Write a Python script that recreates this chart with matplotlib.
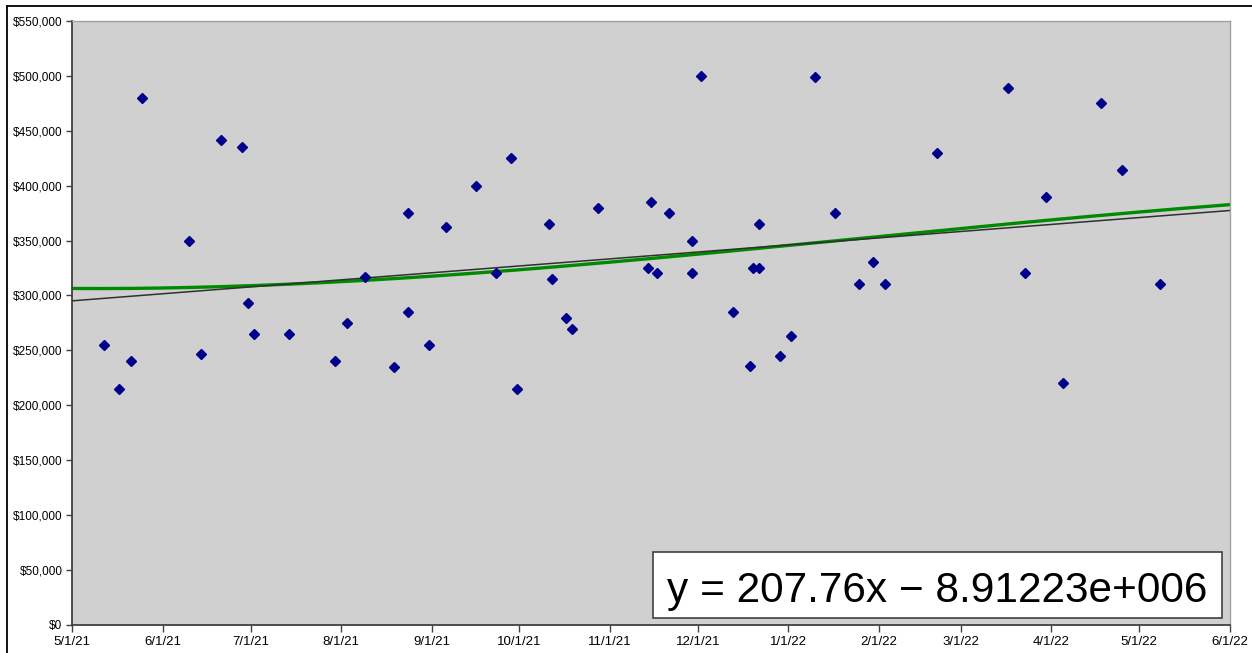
import numpy as np
import pandas as pd
import matplotlib
matplotlib.use('Agg')
import matplotlib.pyplot as plt
from matplotlib.ticker import FuncFormatter
from matplotlib.lines import Line2D
from matplotlib.patches import Rectangle

# sale date / sale price
sale_dates = [
    '2021-05-12', '2021-05-17', '2021-05-21', '2021-05-25', '2021-06-10',
    '2021-06-14', '2021-06-21', '2021-06-28', '2021-06-30', '2021-07-02',
    '2021-07-14', '2021-07-30', '2021-08-03', '2021-08-09', '2021-08-19',
    '2021-08-24', '2021-08-24', '2021-08-31', '2021-09-06', '2021-09-16',
    '2021-09-23', '2021-09-28', '2021-09-30', '2021-10-11', '2021-10-12',
    '2021-10-17', '2021-10-19', '2021-10-28', '2021-11-14', '2021-11-15',
    '2021-11-17', '2021-11-21', '2021-11-29', '2021-11-29', '2021-12-02',
    '2021-12-13', '2021-12-19', '2021-12-20', '2021-12-22', '2021-12-22',
    '2021-12-29', '2022-01-02', '2022-01-10', '2022-01-17', '2022-01-25',
    '2022-01-30', '2022-02-03', '2022-02-21', '2022-03-17', '2022-03-23',
    '2022-03-30', '2022-04-05', '2022-04-18', '2022-04-25', '2022-05-08',
]
sale_prices = [
    255000, 215000, 240000, 480000, 350000,
    247000, 442000, 435000, 293000, 265000,
    265000, 240000, 275000, 317000, 235000,
    375000, 285000, 255000, 362000, 400000,
    320000, 425000, 215000, 365000, 315000,
    279000, 269000, 380000, 325000, 385000,
    320000, 375000, 350000, 320000, 500000,
    285000, 236000, 325000, 325000, 365000,
    245000, 263000, 499000, 375000, 310000,
    330000, 310000, 430000, 489000, 320000,
    390000, 220000, 475000, 414000, 310000,
]

# linear trend as printed on the chart (x = excel serial date)
trend_slope = 207.76
trend_intercept = -8.91223e6

x_tick_dates = ['2021-05-01', '2021-06-01', '2021-07-01', '2021-08-01', '2021-09-01',
                '2021-10-01', '2021-11-01', '2021-12-01', '2022-01-01', '2022-02-01',
                '2022-03-01', '2022-04-01', '2022-05-01', '2022-06-01']
x_tick_labels = ['5/1/21', '6/1/21', '7/1/21', '8/1/21', '9/1/21', '10/1/21', '11/1/21',
                 '12/1/21', '1/1/22', '2/1/22', '3/1/22', '4/1/22', '5/1/22', '6/1/22']
y_ticks = list(range(0, 550001, 50000))

excel_epoch = pd.Timestamp('1899-12-30')
dates = pd.to_datetime(sale_dates)
serial = np.array((dates - excel_epoch).days, dtype=float)
prices = np.array(sale_prices, dtype=float)

tick_dates = pd.to_datetime(x_tick_dates)
x0, x1 = tick_dates[0], tick_dates[-1]

plt.rcParams['font.family'] = ['Liberation Sans', 'DejaVu Sans']

fig = plt.figure(figsize=(12.52, 6.53), dpi=100)
W, H = 1252, 653
ax = fig.add_axes([72.3 / W, (H - 624.7) / H, (1229.7 - 72.3) / W, (624.7 - 21) / H])
ax.set_facecolor('#d0d0d0')

# polynomial trend (green)
xs = pd.date_range(x0, x1, freq='D')
xs_serial = np.array((xs - excel_epoch).days, dtype=float)
t0 = serial.mean()
coef = np.polyfit(serial - t0, prices, 3)
ax.plot(xs, np.polyval(coef, xs_serial - t0), color='#008a00', lw=2.4, zorder=2)

# linear trend (black)
xl = pd.DatetimeIndex([x0, x1])
xl_serial = np.array((xl - excel_epoch).days, dtype=float)
ax.plot(xl, trend_slope * xl_serial + trend_intercept, color='#303030', lw=1.1, zorder=3)

ax.plot(dates, prices, 'D', color='#00008b', ms=5, mec='#00008b', zorder=4)

ax.set_xlim(x0, x1)
ax.set_ylim(0, 550000)
ax.set_xticks(tick_dates)
ax.set_xticklabels(x_tick_labels, fontsize=9.5)
ax.set_yticks(y_ticks)
ax.yaxis.set_major_formatter(FuncFormatter(lambda v, p: '${:,.0f}'.format(v)))
ax.tick_params(axis='y', labelsize=8.5, length=4, width=1, color='#404040', pad=3)
ax.tick_params(axis='x', length=5, width=1, color='#404040', pad=3)

for s in ['left', 'bottom']:
    ax.spines[s].set_color('#404040')
    ax.spines[s].set_linewidth(1.3)
for s in ['top', 'right']:
    ax.spines[s].set_color('#a0a0a0')
    ax.spines[s].set_linewidth(1)

# equation box
ax.add_patch(Rectangle((0.5015, 0.0116), 0.4919, 0.1083, transform=ax.transAxes,
                       facecolor='white', edgecolor='#404040', lw=1.2, zorder=5))
ax.text(0.7472, 0.038, 'y = 207.76x \u2212 8.91223e+006', transform=ax.transAxes,
        fontsize=30.5, ha='center', va='baseline', zorder=6)

# outer frame (top and left edges visible)
fig.add_artist(Line2D([7 / W, 7 / W], [0, 1 - 6 / H], color='black', lw=1.3))
fig.add_artist(Line2D([7 / W, 1], [1 - 6 / H, 1 - 6 / H], color='black', lw=1.3))

fig.savefig('out.png', dpi=100)
